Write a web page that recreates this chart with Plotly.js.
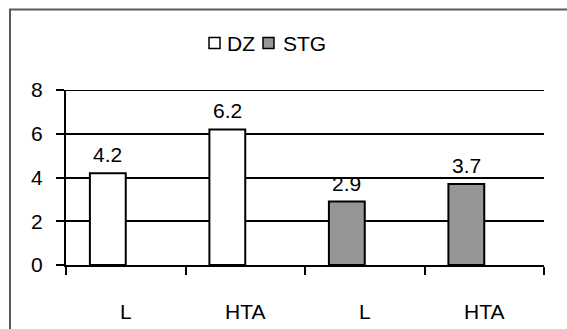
<!DOCTYPE html>
<html>
<head>
<meta charset="utf-8">
<script src="https://cdn.plot.ly/plotly-3.0.1.min.js"></script>
<style>html,body{margin:0;padding:0;background:#fff;}#chart{width:567px;height:329px;}</style>
</head>
<body>
<div id="chart"></div>
<script>
// ---- data ----
var categories = ["L", "HTA", "L", "HTA"];
var seriesNames = ["DZ", "STG"];
var dzValues = [4.2, 6.2, null, null];
var stgValues = [null, null, 2.9, 3.7];
var yTicks = [0, 2, 4, 6, 8];

// ---- styling / layout helpers ----
var W = 567, H = 329;
var L = 66, R = 544, T = 90, B = 265;
var FONT = "Liberation Sans Narrow, Arial Narrow, Liberation Sans, sans-serif";
var FS = 21;
var fillColors = ["#ffffff", "#969696"];
function px2x(px) { return (px - L) / (R - L); }
function py2y(py) { return (B - py) / (B - T); }

var xpos = categories.map(function (_, i) { return i; });
var allSeries = [dzValues, stgValues];

var traces = allSeries.map(function (vals, s) {
  return {
    type: "bar",
    name: seriesNames[s],
    x: xpos,
    y: vals,
    width: 0.3,
    offset: -0.3,
    marker: { color: fillColors[s], line: { color: "#000", width: 2 } },
    hoverinfo: "none",
    showlegend: false
  };
});

var annotations = [];
allSeries.forEach(function (vals) {
  vals.forEach(function (v, i) {
    if (v === null) return;
    annotations.push({
      x: i - 0.15, y: v, xref: "x", yref: "y",
      text: v.toFixed(1), showarrow: false,
      yanchor: "bottom", yshift: 5,
      font: { family: FONT, size: FS, color: "#000" }
    });
  });
});

// manual legend
var legendSquares = [209, 263];
var legendTextX = [225, 281];
var shapes = [];
seriesNames.forEach(function (n, s) {
  shapes.push({
    type: "rect", xref: "paper", yref: "paper",
    x0: px2x(legendSquares[s]), x1: px2x(legendSquares[s] + 11),
    y0: py2y(48.5), y1: py2y(37.5),
    fillcolor: fillColors[s], line: { color: "#000", width: 1.5 }
  });
  annotations.push({
    xref: "paper", yref: "paper",
    x: px2x(legendTextX[s]), y: py2y(43),
    xanchor: "left", yanchor: "middle",
    text: n, showarrow: false,
    font: { family: FONT, size: FS, color: "#000" }
  });
});

// top gridline (value 8) drawn explicitly since it sits on the plot edge
shapes.push({
  type: "line", xref: "paper", yref: "y",
  x0: 0, x1: 1, y0: yTicks[yTicks.length - 1], y1: yTicks[yTicks.length - 1],
  line: { color: "#000", width: 2 }, layer: "below"
});

// outer frame
shapes.push({
  type: "rect", xref: "paper", yref: "paper",
  x0: px2x(10), x1: px2x(600), y0: py2y(9.5), y1: py2y(340),
  line: { color: "#5a5a5a", width: 2 }, fillcolor: "rgba(0,0,0,0)", layer: "below"
});

var boundaries = [];
for (var i = 0; i <= categories.length; i++) boundaries.push(i - 0.5);

var layout = {
  width: W, height: H,
  margin: { l: L, r: W - R, t: T, b: H - B, pad: 0 },
  paper_bgcolor: "#fff", plot_bgcolor: "#fff",
  showlegend: false,
  font: { family: FONT, size: FS, color: "#000" },
  xaxis: {
    range: [-0.5, categories.length - 0.5],
    tickmode: "array", tickvals: xpos, ticktext: categories,
    ticks: "", showgrid: false, zeroline: false,
    showline: true, linecolor: "#000", linewidth: 2,
    ticklabelstandoff: 27,
    tickfont: { family: FONT, size: FS, color: "#000" },
    minor: { tickmode: "array", tickvals: boundaries, ticks: "outside", ticklen: 8, tickwidth: 2, tickcolor: "#000", showgrid: false },
    fixedrange: true
  },
  yaxis: {
    range: [0, 8],
    tickmode: "array", tickvals: yTicks,
    ticks: "outside", ticklen: 8, tickwidth: 2, tickcolor: "#000",
    showgrid: true, gridcolor: "#000", gridwidth: 2,
    zeroline: false,
    showline: true, linecolor: "#000", linewidth: 2,
    ticklabelstandoff: 9,
    tickfont: { family: FONT, size: FS, color: "#000" },
    fixedrange: true
  },
  shapes: shapes,
  annotations: annotations
};

Plotly.newPlot("chart", traces, layout, { staticPlot: true, displayModeBar: false });
</script>
</body>
</html>
